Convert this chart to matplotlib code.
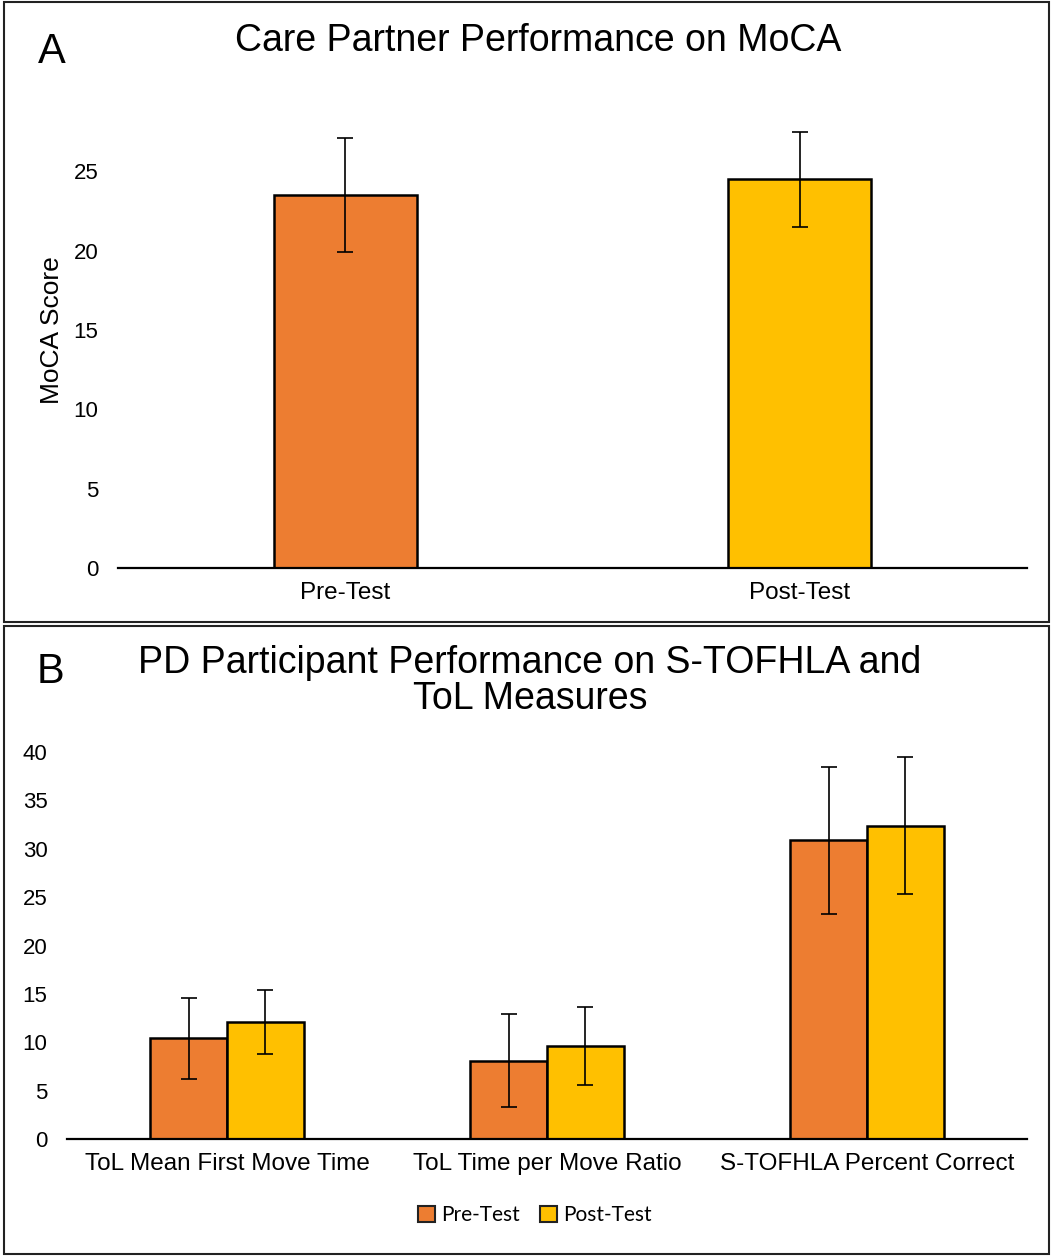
import matplotlib.pyplot as plt
from matplotlib.patches import Rectangle, Patch
import numpy as np

plt.rcParams['font.family'] = ['Liberation Sans', 'DejaVu Sans']

# panel A data
moca_groups = ['Pre-Test', 'Post-Test']
moca_mean = [23.5, 24.5]
moca_err = [3.6, 3.0]

# panel B data
measures = ['ToL Mean First Move Time', 'ToL Time per Move Ratio', 'S-TOFHLA Percent Correct']
pre_mean = [10.4, 8.1, 30.9]
pre_err = [4.2, 4.8, 7.6]
post_mean = [12.1, 9.6, 32.4]
post_err = [3.3, 4.0, 7.1]

c_pre = '#ED7D31'
c_post = '#FFC000'

W, H = 1053, 1257
fig = plt.figure(figsize=(W / 100, H / 100), dpi=100)

def fx(px):
    return px / W

def fy(py):
    return 1 - py / H

# panel boxes
fig.add_artist(Rectangle((fx(4), fy(622)), fx(1049) - fx(4), fy(2) - fy(622),
                         transform=fig.transFigure, fill=False, lw=1.5, ec='#222222'))
fig.add_artist(Rectangle((fx(4), fy(1254)), fx(1049) - fx(4), fy(626) - fy(1254),
                         transform=fig.transFigure, fill=False, lw=1.5, ec='#222222'))

def style(ax):
    for s in ['top', 'right', 'left']:
        ax.spines[s].set_visible(False)
    ax.spines['bottom'].set_linewidth(1.6)
    ax.tick_params(axis='y', length=0, pad=14, labelsize=16)
    ax.tick_params(axis='x', length=0, pad=10, labelsize=17.5)

err_kw = dict(ecolor='black', elinewidth=1.2, capsize=6, capthick=1.2)

# ---- Panel A
axA = fig.add_axes([fx(118), fy(568), fx(1027) - fx(118), fy(92) - fy(568)])
xa = np.arange(len(moca_groups))
axA.bar(xa, moca_mean, width=0.315, color=[c_pre, c_post], edgecolor='black', linewidth=1.8,
        yerr=moca_err, error_kw=err_kw, zorder=2)
axA.set_xlim(-0.5, 1.5)
axA.set_ylim(0, 30)
axA.set_yticks([0, 5, 10, 15, 20, 25])
axA.set_xticks(xa)
axA.set_xticklabels(moca_groups)
axA.set_ylabel('MoCA Score', fontsize=19, labelpad=7)
style(axA)
fig.text(fx(52), fy(52), 'A', fontsize=30, ha='center', va='center')
fig.text(fx(538), fy(41), 'Care Partner Performance on MoCA', fontsize=27, ha='center', va='center')

# ---- Panel B
axB = fig.add_axes([fx(67), fy(1139), fx(1027) - fx(67), fy(752) - fy(1139)])
xb = np.arange(len(measures))
bw = 0.24
axB.bar(xb - bw / 2, pre_mean, width=bw, color=c_pre, edgecolor='black', linewidth=1.8,
        yerr=pre_err, error_kw=err_kw, zorder=2)
axB.bar(xb + bw / 2, post_mean, width=bw, color=c_post, edgecolor='black', linewidth=1.8,
        yerr=post_err, error_kw=err_kw, zorder=2)
axB.set_xlim(-0.5, 2.5)
axB.set_ylim(0, 40)
axB.set_yticks(np.arange(0, 41, 5))
axB.set_xticks(xb)
axB.set_xticklabels(measures)
style(axB)
fig.text(fx(50), fy(672), 'B', fontsize=30, ha='center', va='center')
fig.text(fx(530), fy(681), 'PD Participant Performance on S-TOFHLA and\nToL Measures',
         fontsize=27, ha='center', va='center', linespacing=0.97)

handles = [Patch(facecolor=c_pre, edgecolor='#222222', linewidth=1.5, label='Pre-Test'),
           Patch(facecolor=c_post, edgecolor='#222222', linewidth=1.5, label='Post-Test')]
fig.legend(handles=handles, loc='center', bbox_to_anchor=(fx(535), fy(1215)), ncol=2,
           frameon=False, handlelength=0.8, handleheight=0.8,
           handletextpad=0.3, columnspacing=1.0, prop={'family': ['Lato', 'DejaVu Sans'], 'size': 15})

fig.savefig('out.png', dpi=100)
